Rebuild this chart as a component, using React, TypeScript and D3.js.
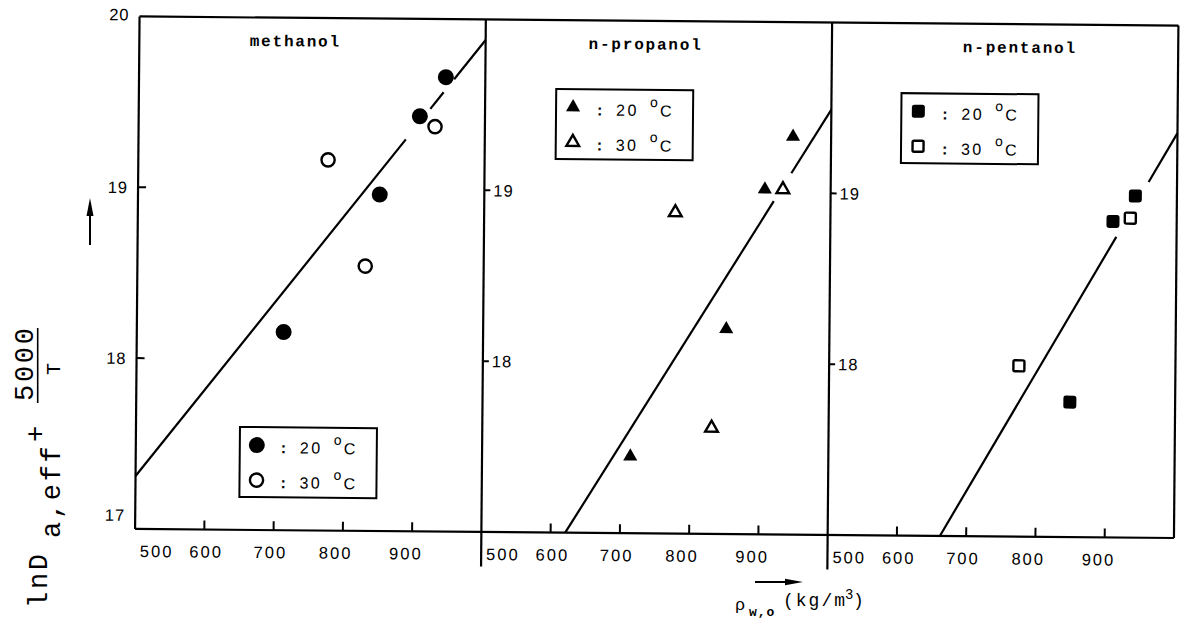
import React from 'react';
import * as d3 from 'd3';

// Density axis ticks (kg/m^3) shared by the three panels
const xTicks = [500, 600, 700, 800, 900];
// Left-axis labels of the first panel and inner ticks of the others
const yLabelsOuter = [20, 19, 18, 17];
const yTicksInner = [19, 18];

const panelNames = ['methanol', 'n-propanol', 'n-pentanol'];
const markerKinds = ['circle', 'triangle', 'square'];
const legendTemps = ['20', '30'];

// ln D_a,eff + 5000/T against water-phase density, 20 °C and 30 °C
const methanol20 = [
  { x: 712, y: 18.16 },
  { x: 849, y: 18.97 },
  { x: 906, y: 19.43 },
  { x: 943, y: 19.66 },
];
const methanol30 = [
  { x: 774, y: 19.17 },
  { x: 829, y: 18.55 },
  { x: 928, y: 19.37 },
];
const propanol20 = [
  { x: 714, y: 17.45 },
  { x: 851, y: 18.2 },
  { x: 905, y: 19.02 },
  { x: 945, y: 19.33 },
];
const propanol30 = [
  { x: 776, y: 18.88 },
  { x: 831, y: 17.62 },
  { x: 931, y: 19.02 },
];
const pentanol20 = [
  { x: 848, y: 17.79 },
  { x: 908, y: 18.85 },
  { x: 940, y: 19.0 },
];
const pentanol30 = [
  { x: 774, y: 18.0 },
  { x: 933, y: 18.87 },
];

// Fitted straight lines: end points and the stretches left open around markers
const fitStart = [
  [500, 17.31],
  [621, 17.0],
  [662, 17.0],
];
const fitEnd = [
  [1000, 19.88],
  [1000, 19.49],
  [1000, 19.37],
];
const fitGaps = [
  [
    [886, 921],
    [940, 955],
  ],
  [[918, 943]],
  [[913, 959]],
];

const panelSeries = [
  [methanol20, methanol30],
  [propanol20, propanol30],
  [pentanol20, pentanol30],
];

// ---- layout ----
const W = 1183;
const H = 621;
const left0 = 137.3;
const panelW = 346.3;
const top = 21;
const bottom = 533.5;
const dividerBottom = 568;
const titleDx = [156, 160, 188];
const legendPos = [
  [104, 409.6],
  [71, 69],
  [70, 70],
];
const legendW = 137;
const legendH = 70;
const xLabelDx = [5, 2, -3, -7, -6];

const monoFont = "'Liberation Mono', 'DejaVu Sans Mono', monospace";
const sansFont = "'Liberation Sans', Arial, sans-serif";

const y = d3.scaleLinear().domain([17, 20]).range([bottom, top]);
const xScales = [0, 1, 2].map((i) =>
  d3
    .scaleLinear()
    .domain([500, 1000])
    .range([left0 + i * panelW, left0 + (i + 1) * panelW])
);

const lineGen = d3
  .line<[number, number]>()
  .x((d) => d[0])
  .y((d) => d[1]);

function fitPieces(i: number): [number, number][][] {
  const [x0, y0] = fitStart[i];
  const [x1, y1] = fitEnd[i];
  const f = (v: number) => y0 + ((y1 - y0) * (v - x0)) / (x1 - x0);
  const cuts: number[] = [x0];
  fitGaps[i].forEach(([a, b]) => cuts.push(a, b));
  cuts.push(x1);
  const pieces: [number, number][][] = [];
  for (let k = 0; k < cuts.length; k += 2) {
    const a = cuts[k];
    const b = cuts[k + 1];
    pieces.push([
      [xScales[i](a), y(f(a))],
      [xScales[i](b), y(f(b))],
    ]);
  }
  return pieces;
}

const triFilled = d3.symbol().type(d3.symbolTriangle).size(86)();
const triOpen = d3.symbol().type(d3.symbolTriangle).size(70)();

function Marker({ kind, filled, cx, cy }: { kind: string; filled: boolean; cx: number; cy: number }) {
  const sw = 2.4;
  if (kind === 'circle') {
    return filled ? (
      <circle cx={cx} cy={cy} r={8} fill="#000" />
    ) : (
      <circle cx={cx} cy={cy} r={6.6} fill="#fff" stroke="#000" strokeWidth={sw} />
    );
  }
  if (kind === 'triangle') {
    return filled ? (
      <path d={triFilled || ''} transform={`translate(${cx},${cy})`} fill="#000" />
    ) : (
      <path
        d={triOpen || ''}
        transform={`translate(${cx},${cy})`}
        fill="#fff"
        stroke="#000"
        strokeWidth={sw}
        strokeLinejoin="miter"
      />
    );
  }
  return filled ? (
    <rect x={cx - 6.5} y={cy - 6.5} width={13} height={13} rx={2.5} fill="#000" />
  ) : (
    <rect x={cx - 5.5} y={cy - 5.5} width={11} height={11} rx={1.5} fill="#fff" stroke="#000" strokeWidth={sw} />
  );
}

function Panel({ i }: { i: number }) {
  const x = xScales[i];
  const pl = left0 + i * panelW;
  const [lx, ly] = legendPos[i];
  const bx = pl + lx;
  const by = top + ly;
  return (
    <g>
      {/* x ticks and labels */}
      {xTicks.map((t, k) => (
        <g key={t}>
          {k > 0 && <line x1={x(t)} x2={x(t)} y1={bottom} y2={bottom - 9} stroke="#000" strokeWidth={2} />}
          <text
            x={x(t) + xLabelDx[k]}
            y={bottom + 28}
            textAnchor={k === 0 ? 'start' : 'middle'}
            fontFamily={sansFont}
            fontSize={16.5}
            letterSpacing={2}
          >
            {t}
          </text>
        </g>
      ))}

      {/* y ticks */}
      {i === 0
        ? yLabelsOuter.map((t) => (
            <g key={t}>
              {t !== 20 && t !== 17 && (
                <line x1={pl} x2={pl + 8} y1={y(t)} y2={y(t)} stroke="#000" strokeWidth={2} />
              )}
              <text
                x={pl - 10}
                y={y(t) + 6 + (t === 20 ? -2 : t === 17 ? -14 : 0)}
                textAnchor="end"
                fontFamily={sansFont}
                fontSize={16.5}
                letterSpacing={1}
              >
                {t}
              </text>
            </g>
          ))
        : yTicksInner.map((t) => (
            <g key={t}>
              <line x1={pl} x2={pl + 6} y1={y(t)} y2={y(t)} stroke="#000" strokeWidth={2} />
              <text x={pl + 9} y={y(t) + 6} fontFamily={sansFont} fontSize={16.5} letterSpacing={1}>
                {t}
              </text>
            </g>
          ))}

      {/* title */}
      <text
        x={pl + titleDx[i]}
        y={top + 28.5}
        textAnchor="middle"
        fontFamily={monoFont}
        fontSize={16}
        fontWeight="bold"
        letterSpacing={1.8}
      >
        {panelNames[i]}
      </text>

      {/* fitted line */}
      {fitPieces(i).map((p, k) => (
        <path key={k} d={lineGen(p) || ''} fill="none" stroke="#000" strokeWidth={2.2} />
      ))}

      {/* data points */}
      {panelSeries[i].map((series, s) =>
        series.map((d, k) => (
          <Marker key={`${s}-${k}`} kind={markerKinds[i]} filled={s === 0} cx={x(d.x)} cy={y(d.y)} />
        ))
      )}

      {/* legend */}
      <rect x={bx} y={by} width={legendW} height={legendH} fill="#fff" stroke="#000" strokeWidth={2} />
      {legendTemps.map((temp, r) => {
        const cy = by + 18 + r * 35;
        return (
          <g key={temp}>
            <Marker kind={markerKinds[i]} filled={r === 0} cx={bx + 17} cy={cy} />
            <text x={bx + 41} y={cy + 8} fontFamily={sansFont} fontSize={16} fontWeight="bold">
              :
            </text>
            <text x={bx + 60} y={cy + 8} fontFamily={sansFont} fontSize={16} letterSpacing={2.5}>
              {temp}
            </text>
            <text x={bx + 94} y={cy - 1} fontFamily={sansFont} fontSize={14}>
              o
            </text>
            <text x={bx + 104} y={cy + 8.5} fontFamily={sansFont} fontSize={16}>
              C
            </text>
          </g>
        );
      })}
    </g>
  );
}

export default function App() {
  const right = left0 + 3 * panelW;
  return (
    <svg
      width={W}
      height={H}
      viewBox={`0 0 ${W} ${H}`}
      style={{ position: 'absolute', left: 0, top: 0, background: '#fff' }}
    >
      <rect x={0} y={0} width={W} height={H} fill="#fff" />
      <g transform="rotate(0.5 658 277)">
        {/* frame */}
        <line x1={left0} x2={right} y1={top} y2={top} stroke="#000" strokeWidth={2.2} />
        <line x1={left0} x2={right} y1={bottom} y2={bottom} stroke="#000" strokeWidth={2.2} />
        <line x1={left0} x2={left0} y1={top} y2={bottom} stroke="#000" strokeWidth={2.2} />
        <line x1={left0 + panelW} x2={left0 + panelW} y1={top} y2={dividerBottom} stroke="#000" strokeWidth={2.2} />
        <line
          x1={left0 + 2 * panelW}
          x2={left0 + 2 * panelW}
          y1={top}
          y2={dividerBottom}
          stroke="#000"
          strokeWidth={2.2}
        />
        <line x1={right} x2={right} y1={top} y2={bottom} stroke="#000" strokeWidth={2.2} />
        {[0, 1, 2].map((i) => (
          <Panel key={i} i={i} />
        ))}
      </g>

      {/* y axis title with arrow */}
      <line x1={90} x2={90} y1={245} y2={212} stroke="#000" strokeWidth={2} />
      <polygon points="86.5,216 90,198 93.5,216" fill="#000" />
      <g transform="rotate(-90)" fontFamily={monoFont} fontSize={27} letterSpacing={2.7}>
        <text x={-608} y={47}>lnD</text>
        <text x={-538} y={60}>a,eff</text>
        <text x={-434} y={44} textAnchor="middle" letterSpacing={0}>
          +
        </text>
        <text x={-401} y={33}>5000</text>
        <line x1={-403} x2={-328} y1={37.7} y2={37.7} stroke="#000" strokeWidth={1.6} />
        <text x={-369} y={60} textAnchor="middle" fontSize={20} letterSpacing={0}>
          T
        </text>
      </g>

      {/* x axis title with arrow */}
      <line x1={755} x2={790} y1={582} y2={582} stroke="#000" strokeWidth={2} />
      <polygon points="785,578.8 803,582 785,585.2" fill="#000" />
      <text x={735} y={610} fontFamily={monoFont} fontSize={17}>
        ρ
      </text>
      <text x={749} y={616} fontFamily={monoFont} fontSize={13} fontWeight="bold" letterSpacing={1}>
        w,o
      </text>
      <text x={783} y={606} fontFamily={monoFont} fontSize={18} letterSpacing={2}>
        (kg/m
      </text>
      <text x={845} y={599} fontFamily={monoFont} fontSize={14}>
        3
      </text>
      <text x={853} y={606} fontFamily={monoFont} fontSize={18}>
        )
      </text>
    </svg>
  );
}
